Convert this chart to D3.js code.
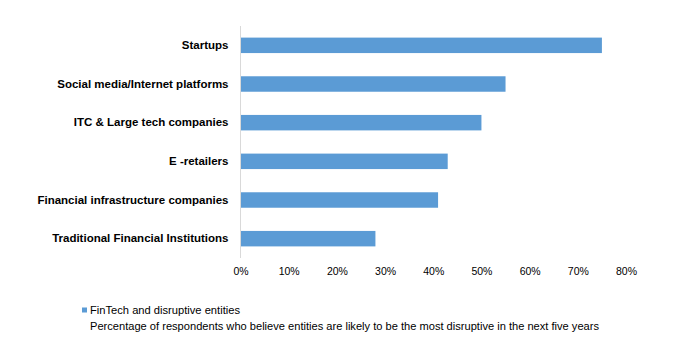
<!DOCTYPE html>
<html><head><meta charset="utf-8">
<script src="https://cdn.jsdelivr.net/npm/d3@7"></script>
<style>body{margin:0;background:#fff;} svg{display:block;font-family:"Liberation Sans",Arial,sans-serif;}</style>
</head><body><svg id="c" width="674" height="360"></svg>
<script>
const categories = ["Startups","Social media/Internet platforms","ITC & Large tech companies","E -retailers","Financial infrastructure companies ","Traditional Financial Institutions"];
const values = [0.75,0.55,0.50,0.43,0.41,0.28];
const tickValues = [0,0.1,0.2,0.3,0.4,0.5,0.6,0.7,0.8];
const seriesName = "FinTech and disruptive entities";
const note = "Percentage of respondents who believe entities are likely to be the most disruptive in the next five years";

const svg = d3.select("#c");
const x = d3.scaleLinear().domain([0,0.8]).range([240.5,626]);
const y = d3.scaleBand().domain(categories).range([26,258]).paddingInner(0.6).paddingOuter(0.3);
const color = "#5B9BD5";

svg.selectAll("rect.bar").data(values).join("rect").attr("class","bar")
  .attr("x", x(0)+0.5).attr("y",(d,i)=>y(categories[i]))
  .attr("width", d=>x(d)-x(0)-0.5).attr("height", y.bandwidth()).attr("fill", color);

svg.append("line").attr("x1",240.5).attr("x2",240.5).attr("y1",26).attr("y2",258).attr("stroke","#d9d9d9").attr("stroke-width",1);

const yAxis = d3.axisLeft(y).tickSize(0).tickPadding(12);
const gy = svg.append("g").attr("transform","translate(240.5,0)").call(yAxis);
gy.select(".domain").remove();
gy.selectAll("text").attr("font-size","11.5px").attr("font-weight","bold").attr("fill","#000")
  .attr("font-family","'Liberation Sans',Arial,sans-serif");

const xAxis = d3.axisBottom(x).tickValues(tickValues).tickFormat(d3.format(".0%")).tickSize(0).tickPadding(0);
const gx = svg.append("g").attr("transform","translate(0,268)").call(xAxis);
gx.select(".domain").remove();
gx.selectAll("text").attr("font-size","10.5px").attr("fill","#000").attr("dy","0.71em");

const lg = svg.append("g");
lg.append("rect").attr("x",82).attr("y",307.5).attr("width",5).attr("height",5).attr("fill",color);
lg.append("text").attr("x",90).attr("y",313.5).attr("font-size","11px").attr("fill","#000")
  .attr("textLength",150).attr("lengthAdjust","spacingAndGlyphs").text(seriesName);
lg.append("text").attr("x",90).attr("y",329.5).attr("font-size","11px").attr("fill","#000")
  .attr("textLength",509).attr("lengthAdjust","spacingAndGlyphs").text(note);
</script></body></html>
